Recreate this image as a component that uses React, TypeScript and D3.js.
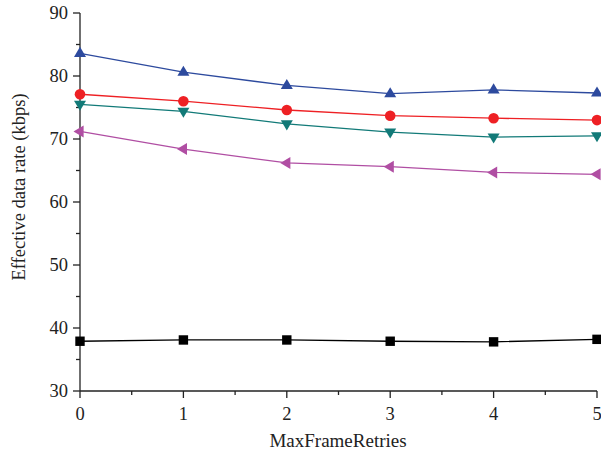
import React from "react";
import * as d3 from "d3";

const xValues = [0, 1, 2, 3, 4, 5];
const blueUp = [83.6, 80.6, 78.5, 77.2, 77.8, 77.3];
const redCircle = [77.1, 76.0, 74.6, 73.7, 73.3, 73.0];
const tealDown = [75.5, 74.4, 72.4, 71.1, 70.3, 70.5];
const magentaLeft = [71.2, 68.4, 66.2, 65.6, 64.7, 64.4];
const blackSquare = [37.9, 38.1, 38.1, 37.9, 37.8, 38.2];
const yTicks = [30, 40, 50, 60, 70, 80, 90];
const xTicks = [0, 1, 2, 3, 4, 5];

const series = [
  { values: blueUp, color: "#2d4a9e", shape: "up" },
  { values: redCircle, color: "#ee2024", shape: "circle" },
  { values: tealDown, color: "#127a78", shape: "down" },
  { values: magentaLeft, color: "#b04ea3", shape: "left" },
  { values: blackSquare, color: "#000000", shape: "square" },
];

const W = 601, H = 459;
const x0 = 80, x1 = 597, yTop = 13, yBot = 391;

function Marker({ shape, cx, cy, color }: any) {
  const s = 6;
  if (shape === "circle") return <circle cx={cx} cy={cy} r={5.3} fill={color} />;
  if (shape === "square") return <rect x={cx - 4.7} y={cy - 4.7} width={9.4} height={9.4} fill={color} />;
  let pts: number[][] = [];
  if (shape === "up") pts = [[cx, cy - s - 0.5], [cx + s, cy + s * 0.6], [cx - s, cy + s * 0.6]];
  if (shape === "down") pts = [[cx, cy + s + 0.5], [cx + s, cy - s * 0.6], [cx - s, cy - s * 0.6]];
  if (shape === "left") pts = [[cx - s - 0.5, cy], [cx + s * 0.6, cy - s], [cx + s * 0.6, cy + s]];
  return <polygon points={pts.map((p) => p.join(",")).join(" ")} fill={color} />;
}

export default function App() {
  const x = d3.scaleLinear().domain([0, 5]).range([x0, x1]);
  const y = d3.scaleLinear().domain([30, 90]).range([yBot, yTop]);
  const line = d3
    .line<number>()
    .x((_, i) => x(xValues[i]))
    .y((d) => y(d));
  const font = "'Liberation Serif', 'DejaVu Serif', serif";
  const yMinor = d3.range(35, 90, 10);
  const xMinor = d3.range(0.5, 5, 1);
  return (
    <svg width={W} height={H} style={{ position: "absolute", left: 0, top: 0 }} fontFamily={font}>
      <rect width={W} height={H} fill="#fff" />
      <line x1={x0} x2={x0} y1={yTop} y2={yBot} stroke="#222" strokeWidth={1.3} />
      <line x1={x0} x2={x1} y1={yBot} y2={yBot} stroke="#222" strokeWidth={1.3} />
      {yTicks.map((t) => (
        <g key={"y" + t}>
          <line x1={x0 - 7} x2={x0} y1={y(t)} y2={y(t)} stroke="#222" strokeWidth={1.3} />
          <text x={x0 - 12} y={y(t)} dy="0.35em" textAnchor="end" fontSize={18.5} fill="#222">
            {t}
          </text>
        </g>
      ))}
      {yMinor.map((t) => (
        <line key={"ym" + t} x1={x0 - 4} x2={x0} y1={y(t)} y2={y(t)} stroke="#222" strokeWidth={1.3} />
      ))}
      {xTicks.map((t) => (
        <g key={"x" + t}>
          <line x1={x(t)} x2={x(t)} y1={yBot} y2={yBot + 7} stroke="#222" strokeWidth={1.3} />
          <text x={x(t)} y={yBot + 29} textAnchor="middle" fontSize={18.5} fill="#222">
            {t}
          </text>
        </g>
      ))}
      {xMinor.map((t) => (
        <line key={"xm" + t} x1={x(t)} x2={x(t)} y1={yBot} y2={yBot + 4} stroke="#222" strokeWidth={1.3} />
      ))}
      <text x={338} y={447} textAnchor="middle" fontSize={19} fill="#222">
        MaxFrameRetries
      </text>
      <text
        transform={`translate(25,187) rotate(-90)`}
        textAnchor="middle"
        fontSize={18.5}
        fill="#222"
      >
        Effective data rate (kbps)
      </text>
      {series.map((s, si) => (
        <g key={si}>
          <path d={line(s.values) || ""} fill="none" stroke={s.color} strokeWidth={1.3} />
          {s.values.map((v, i) => (
            <Marker key={i} shape={s.shape} cx={x(xValues[i])} cy={y(v)} color={s.color} />
          ))}
        </g>
      ))}
    </svg>
  );
}
